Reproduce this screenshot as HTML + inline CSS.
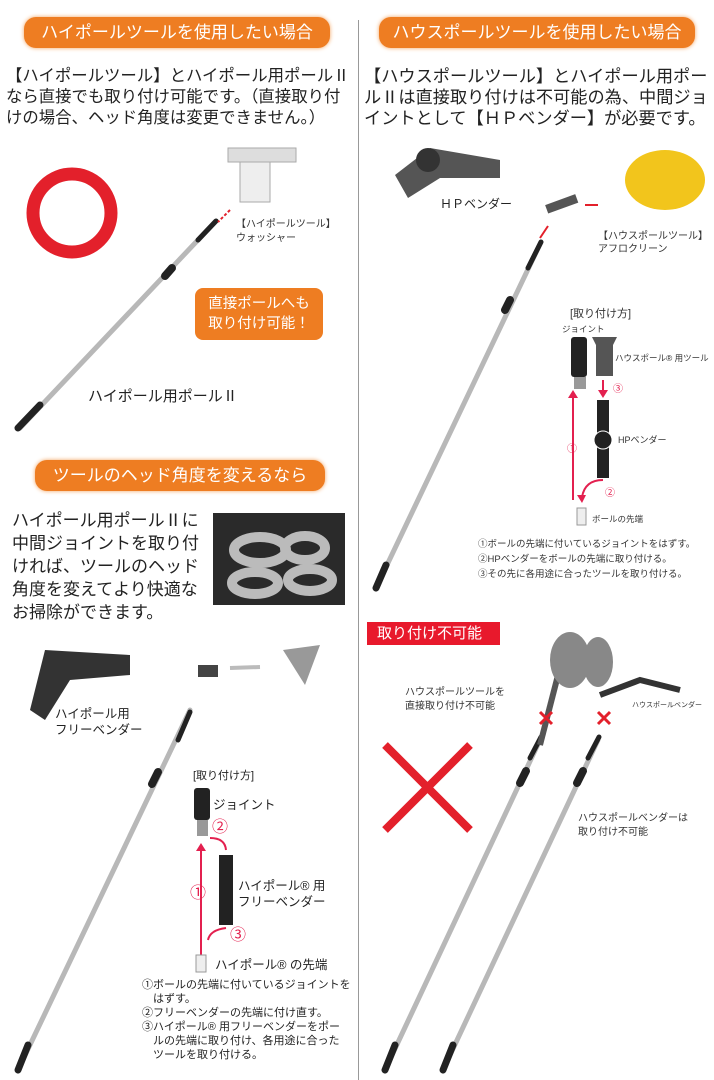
<!DOCTYPE html>
<html><head><meta charset="utf-8"><style>
body{margin:0;width:714px;height:1080px;position:relative;background:#fff;font-family:"Liberation Sans","Noto Sans CJK JP",sans-serif;color:#222;overflow:hidden}
.a{position:absolute;white-space:nowrap}
.ban{position:absolute;height:31px;border-radius:12px;background:#ee7d22;box-shadow:0 0 4px #f3a25e;color:#fff;font-size:17px;line-height:31px;text-align:center}
.t{position:absolute;font-family:"Noto Sans CJK JP",sans-serif;line-height:21px;white-space:nowrap;color:#222}
.s{position:absolute;font-size:10px;white-space:nowrap;color:#333}
.m{position:absolute;font-size:12.5px;white-space:nowrap;color:#222;line-height:16px}
</style></head><body>
<div style="position:absolute;left:358px;top:20px;width:1px;height:1060px;background:#999"></div>

<div class="ban" style="left:24px;top:17px;width:306px">ハイポールツールを使用したい場合</div>
<div class="ban" style="left:379px;top:17px;width:316px">ハウスポールツールを使用したい場合</div>
<div class="ban" style="left:35px;top:460px;width:290px">ツールのヘッド角度を変えるなら</div>

<div class="t" style="left:6px;top:64px;font-size:16.4px">【ハイポールツール】とハイポール用ポールⅡ<br>なら直接でも取り付け可能です。（直接取り付<br>けの場合、ヘッド角度は変更できません。）</div>
<div class="t" style="left:364px;top:64px;font-size:17.2px">【ハウスポールツール】とハイポール用ポー<br>ルⅡは直接取り付けは不可能の為、中間ジョ<br>イントとして【ＨＰベンダー】が必要です。</div>
<div class="t" style="left:12px;top:507px;font-size:17px;line-height:23px">ハイポール用ポールⅡに<br>中間ジョイントを取り付<br>ければ、ツールのヘッド<br>角度を変えてより快適な<br>お掃除ができます。</div>

<svg class="a" style="left:0;top:0" width="714" height="1080">
<circle cx="72" cy="213" r="39" fill="none" stroke="#e3202b" stroke-width="13"/>
<g stroke-linecap="round">
<g stroke="#b8b8b8" stroke-width="5">
<line x1="20" y1="428" x2="215" y2="222"/>
<line x1="376" y1="588" x2="541" y2="242"/>
<line x1="18" y1="1070" x2="190" y2="710"/>
<line x1="385" y1="1070" x2="540" y2="740"/>
<line x1="443" y1="1070" x2="598" y2="740"/>
</g>
<g stroke="#222">
<line x1="18" y1="428" x2="40" y2="405" stroke-width="7"/>
<line x1="165" y1="276" x2="172" y2="268" stroke-width="8"/>
<line x1="198" y1="240" x2="216" y2="221" stroke-width="5"/>
<line x1="376" y1="588" x2="386" y2="565" stroke-width="7"/>
<line x1="505" y1="310" x2="510" y2="300" stroke-width="8"/>
<line x1="528" y1="268" x2="541" y2="242" stroke-width="5"/>
<line x1="18" y1="1070" x2="28" y2="1045" stroke-width="7"/>
<line x1="152" y1="784" x2="158" y2="772" stroke-width="8"/>
<line x1="178" y1="740" x2="190" y2="712" stroke-width="5"/>
<line x1="385" y1="1070" x2="395" y2="1045" stroke-width="7"/>
<line x1="520" y1="783" x2="526" y2="771" stroke-width="8"/>
<line x1="530" y1="758" x2="541" y2="737" stroke-width="5"/>
<line x1="443" y1="1070" x2="453" y2="1045" stroke-width="7"/>
<line x1="577" y1="783" x2="583" y2="771" stroke-width="8"/>
<line x1="588" y1="758" x2="599" y2="737" stroke-width="5"/>
</g>
</g>
<!-- washer -->
<rect x="228" y="148" width="68" height="14" fill="#ddd" stroke="#aaa"/>
<rect x="240" y="162" width="30" height="40" fill="#eee" stroke="#aaa"/>
<line x1="230" y1="210" x2="218" y2="222" stroke="#e3202b" stroke-width="2" stroke-dasharray="3 2"/>
<!-- HP bender -->
<path d="M395 175 L430 148 L500 160 L500 178 L440 178 L408 198 Z" fill="#555"/>
<circle cx="428" cy="160" r="12" fill="#333"/>
<ellipse cx="665" cy="180" rx="40" ry="30" fill="#f2c51c"/>
<rect x="546" y="200" width="32" height="9" fill="#555" transform="rotate(-20 560 205)"/>
<path d="M598 205 L585 205" stroke="#e3202b" stroke-width="2"/>
<path d="M548 226 L540 238" stroke="#e3202b" stroke-width="2"/>
<!-- photo -->
<rect x="213" y="513" width="132" height="92" fill="#2a2a2a"/>
<g fill="none" stroke="#bbb" stroke-width="10"><ellipse cx="260" cy="550" rx="26" ry="13"/><ellipse cx="305" cy="548" rx="20" ry="12"/><ellipse cx="255" cy="583" rx="23" ry="11"/><ellipse cx="310" cy="580" rx="22" ry="11"/></g>
<!-- free bender -->
<path d="M45 650 L130 655 L130 675 L70 680 L45 720 L30 710 Z" fill="#333"/>
<path d="M283 650 L320 645 L305 685 Z" fill="#999"/>
<rect x="198" y="665" width="20" height="12" fill="#444"/>
<line x1="260" y1="667" x2="230" y2="668" stroke="#bbb" stroke-width="4"/>
<!-- not allowed -->
<path d="M385 745 L470 830 M470 745 L385 830" stroke="#e3202b" stroke-width="8"/>
<path d="M540 745 L565 648" stroke="#555" stroke-width="6"/><ellipse cx="570" cy="660" rx="20" ry="28" fill="#888"/><ellipse cx="598" cy="662" rx="15" ry="25" fill="#888"/>
<path d="M540 712 L552 724 M552 712 L540 724 M598 712 L610 724 M610 712 L598 724" stroke="#e3202b" stroke-width="3"/>
<path d="M600 695 L640 680 L680 690" stroke="#333" stroke-width="6" fill="none"/>
<!-- right diagram -->
<rect x="571" y="337" width="16" height="40" rx="3" fill="#222"/><rect x="574" y="377" width="12" height="12" fill="#999"/>
<path d="M592 337 L617 337 L613 345 L613 376 L596 376 L596 345 Z" fill="#555"/>
<rect x="597" y="400" width="12" height="78" fill="#222"/><circle cx="603" cy="440" r="9" fill="#222" stroke="#fff"/>
<path d="M603 380 L603 395" stroke="#e3204f" stroke-width="2"/><path d="M598 390 L603 398 L608 390" fill="#e3204f"/>
<path d="M573 500 L573 395" stroke="#e3204f" stroke-width="2"/><path d="M568 398 L573 390 L578 398" fill="#e3204f"/>
<path d="M603 480 Q585 480 582 497" stroke="#e3204f" stroke-width="2" fill="none"/><path d="M577 495 L582 503 L586 495" fill="#e3204f"/>
<rect x="577" y="508" width="9" height="17" fill="#eee" stroke="#999"/>
<!-- left diagram -->
<rect x="194" y="788" width="16" height="32" rx="3" fill="#222"/><rect x="197" y="820" width="11" height="16" fill="#999"/>
<rect x="219" y="855" width="14" height="70" fill="#222"/>
<path d="M201 968 L201 848" stroke="#e3204f" stroke-width="2"/><path d="M196 851 L201 843 L206 851" fill="#e3204f"/>
<path d="M210 838 Q225 838 226 850" stroke="#e3204f" stroke-width="2" fill="none"/>
<path d="M226 928 Q210 930 208 940" stroke="#e3204f" stroke-width="2" fill="none"/>
<rect x="196" y="955" width="10" height="17" fill="#eee" stroke="#999"/>
</svg>

<div style="position:absolute;left:195px;top:288px;width:128px;height:52px;background:#ee7d22;border-radius:8px;color:#fff;font-size:14.5px;line-height:20px;text-align:center;padding-top:6px;box-sizing:border-box">直接ポールへも<br>取り付け可能！</div>
<div class="a" style="left:88px;top:385px;font-size:15px">ハイポール用ポールⅡ</div>
<div class="s" style="left:236px;top:218px;line-height:14px">【ハイポールツール】<br>ウォッシャー</div>
<div class="a" style="left:440px;top:195px;font-size:12px">ＨＰベンダー</div>
<div class="s" style="left:598px;top:230px;line-height:13px">【ハウスポールツール】<br>アフロクリーン</div>
<div class="s" style="left:570px;top:305px;font-size:11px">[取り付け方]</div>
<div class="s" style="left:562px;top:323px;font-size:8.5px">ジョイント</div>
<div class="s" style="left:615px;top:352px;font-size:8.5px">ハウスポール® 用ツール</div>
<div class="s" style="left:613px;top:380px;color:#e3204f">③</div>
<div class="s" style="left:618px;top:433px;font-size:9px">HPベンダー</div>
<div class="s" style="left:567px;top:440px;color:#e3204f">①</div>
<div class="s" style="left:605px;top:484px;color:#e3204f">②</div>
<div class="s" style="left:592px;top:513px;font-size:8.5px">ボールの先端</div>
<div class="s" style="left:478px;top:537px;line-height:15px;font-size:9.5px">①ボールの先端に付いているジョイントをはずす。<br>②HPベンダーをボールの先端に取り付ける。<br>③その先に各用途に合ったツールを取り付ける。</div>

<div style="position:absolute;left:367px;top:622px;width:133px;height:23px;background:#e8192c;color:#fff;font-size:15px;line-height:23px;padding-left:10px;box-sizing:border-box">取り付け不可能</div>
<div class="s" style="left:405px;top:686px;line-height:14px">ハウスポールツールを<br>直接取り付け不可能</div>
<div class="s" style="left:632px;top:700px;font-size:7px">ハウスポールベンダー</div>
<div class="s" style="left:578px;top:812px;line-height:14px">ハウスポールベンダーは<br>取り付け不可能</div>

<div class="m" style="left:55px;top:706px">ハイポール用<br>フリーベンダー</div>
<div class="m" style="left:193px;top:768px;font-size:11px">[取り付け方]</div>
<div class="m" style="left:213px;top:797px">ジョイント</div>
<div class="m" style="left:212px;top:820px;color:#e3204f;font-size:16px">②</div>
<div class="m" style="left:238px;top:878px">ハイポール® 用<br>フリーベンダー</div>
<div class="m" style="left:190px;top:886px;color:#e3204f;font-size:16px">①</div>
<div class="m" style="left:230px;top:928px;color:#e3204f;font-size:16px">③</div>
<div class="m" style="left:215px;top:957px">ハイポール® の先端</div>
<div class="m" style="left:142px;top:978px;font-size:11px;line-height:14px">①ボールの先端に付いているジョイントを<br>　はずす。<br>②フリーベンダーの先端に付け直す。<br>③ハイポール® 用フリーベンダーをポー<br>　ルの先端に取り付け、各用途に合った<br>　ツールを取り付ける。</div>
</body></html>
